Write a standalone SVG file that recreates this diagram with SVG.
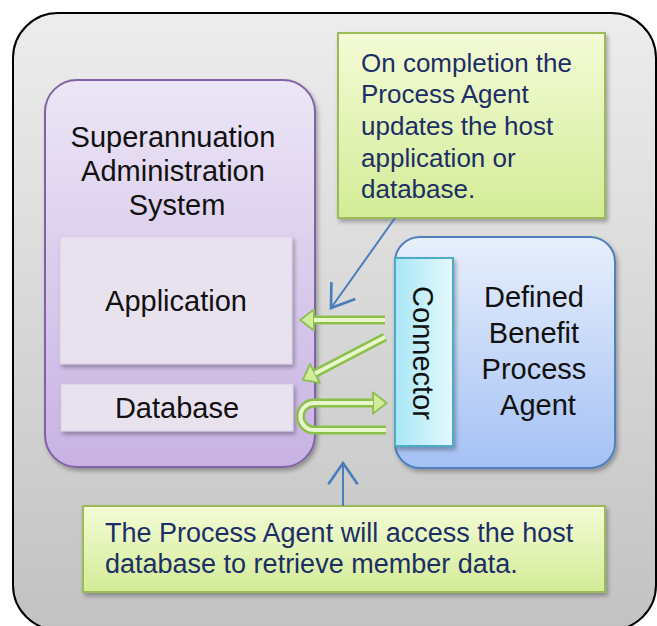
<svg xmlns="http://www.w3.org/2000/svg" width="657" height="626" viewBox="0 0 657 626">
  <defs>
    <linearGradient id="gOuter" x1="0" y1="0" x2="0" y2="1">
      <stop offset="0" stop-color="#ededed"/>
      <stop offset="1" stop-color="#c2c2c2"/>
    </linearGradient>
    <linearGradient id="gPurple" x1="0" y1="0" x2="0" y2="1">
      <stop offset="0" stop-color="#ece6f6"/>
      <stop offset="1" stop-color="#c8b2e3"/>
    </linearGradient>
    <linearGradient id="gBlue" x1="0" y1="0" x2="0" y2="1">
      <stop offset="0" stop-color="#e8effc"/>
      <stop offset="1" stop-color="#a4c1f5"/>
    </linearGradient>
    <linearGradient id="gCyan" x1="0" y1="0" x2="1" y2="0">
      <stop offset="0" stop-color="#a9e7f6"/>
      <stop offset="1" stop-color="#e4f8fc"/>
    </linearGradient>
    <linearGradient id="gGreen" x1="0" y1="0" x2="0" y2="1">
      <stop offset="0" stop-color="#f4fbd6"/>
      <stop offset="1" stop-color="#d3ec97"/>
    </linearGradient>
    <filter id="shadow" x="-10%" y="-10%" width="125%" height="125%">
      <feDropShadow dx="2" dy="3" stdDeviation="2" flood-color="#000" flood-opacity="0.3"/>
    </filter>
    <marker id="blueHead" markerUnits="userSpaceOnUse" markerWidth="40" markerHeight="40" viewBox="-20 -15 24 30" refX="0" refY="0" orient="auto">
      <path d="M-16,-11 L0,0 L-16,11" fill="none" stroke="#4a7ebb" stroke-width="2"/>
    </marker>
    <marker id="greenHead" markerUnits="userSpaceOnUse" markerWidth="30" markerHeight="30" viewBox="-2 -12 16 24" refX="0" refY="0" orient="auto">
      <path d="M0,-8.5 L11,0 L0,8.5 Z" fill="#d2ec9c" stroke="#8cbf4c" stroke-width="1.5" stroke-linejoin="round"/>
    </marker>
    <style>
      .box-text { font-family: "Liberation Sans", Arial, sans-serif; font-size: 29px; fill: #111111; }
      .note-text { font-family: "Liberation Sans", Arial, sans-serif; fill: #1c2e66; }
      .note { fill: url(#gGreen); stroke: #9bbb59; stroke-width: 2; filter: url(#shadow); }
      .pointer { stroke: #4a7ebb; stroke-width: 2; fill: none; marker-end: url(#blueHead); }
      .tube-out { fill: none; stroke: #8cbf4c; stroke-width: 9; }
      .tube-in { fill: none; stroke: #e8f6cb; stroke-width: 4; }
      .inner-box { fill: #e8e2ef; stroke: #d6cde2; stroke-width: 1; filter: url(#shadow); }
    </style>
  </defs>

  <!-- outer container -->
  <rect id="container" x="13" y="13" width="643" height="617" rx="45" ry="45" fill="url(#gOuter)" stroke="#000000" stroke-width="2"/>

  <!-- Superannuation Administration System -->
  <g id="sas">
    <rect x="45" y="80" width="270" height="387" rx="32" ry="32" fill="url(#gPurple)" stroke="#8064a2" stroke-width="2" filter="url(#shadow)"/>
    <text class="box-text" text-anchor="middle">
      <tspan x="177" y="147">Superannuation</tspan>
      <tspan x="177" y="181">Administration</tspan>
      <tspan x="177" y="215">System</tspan>
    </text>
  </g>

  <g id="application">
    <rect class="inner-box" x="60" y="237" width="232" height="127"/>
    <text class="box-text" x="176" y="311" text-anchor="middle">Application</text>
  </g>

  <g id="database">
    <rect class="inner-box" x="61" y="384" width="232" height="47"/>
    <text class="box-text" x="177" y="418" text-anchor="middle">Database</text>
  </g>

  <!-- Defined Benefit Process Agent -->
  <g id="agent">
    <rect x="395" y="237" width="220" height="231" rx="25" ry="25" fill="url(#gBlue)" stroke="#4f81bd" stroke-width="2" filter="url(#shadow)"/>
    <text class="box-text" text-anchor="middle">
      <tspan x="538" y="307">Defined</tspan>
      <tspan x="538" y="343">Benefit</tspan>
      <tspan x="538" y="379">Process</tspan>
      <tspan x="538" y="415">Agent</tspan>
    </text>
  </g>

  <g id="connector">
    <rect x="395" y="258" width="58" height="188" fill="url(#gCyan)" stroke="#4bacc6" stroke-width="2" filter="url(#shadow)"/>
    <text class="box-text" transform="translate(413,353) rotate(90)" text-anchor="middle">Connector</text>
  </g>

  <!-- notes -->
  <g id="note-top">
    <rect class="note" x="338" y="33" width="267" height="185"/>
    <text class="note-text" font-size="26">
      <tspan x="361" y="72">On completion the</tspan>
      <tspan x="361" y="103">Process Agent</tspan>
      <tspan x="361" y="135">updates the host</tspan>
      <tspan x="361" y="167">application or</tspan>
      <tspan x="361" y="198">database.</tspan>
    </text>
  </g>

  <g id="note-bottom">
    <rect class="note" x="83" y="506" width="522" height="86"/>
    <text class="note-text" font-size="27">
      <tspan x="105" y="542">The Process Agent will access the host</tspan>
      <tspan x="105" y="573">database to retrieve member data.</tspan>
    </text>
  </g>

  <!-- connectors -->
  <g id="connectors">
    <line class="pointer" x1="395" y1="218" x2="331" y2="308"/>
    <line class="pointer" x1="343" y1="506" x2="343" y2="463"/>

    <g id="arrow-update-app">
      <path class="tube-out" d="M385,320 L314,320" marker-end="url(#greenHead)"/>
      <path class="tube-in" d="M385,320 L314,320"/>
    </g>
    <g id="arrow-update-db">
      <path class="tube-out" d="M385,337 L315,373.5" marker-end="url(#greenHead)"/>
      <path class="tube-in" d="M385,337 L315,373.5"/>
    </g>
    <g id="arrow-read-db">
      <path class="tube-out" d="M386,430 L314,430 A13.5,13.5 0 0 1 314,403 L373,403" marker-end="url(#greenHead)"/>
      <path class="tube-in" d="M386,430 L314,430 A13.5,13.5 0 0 1 314,403 L373,403"/>
    </g>
  </g>
</svg>
